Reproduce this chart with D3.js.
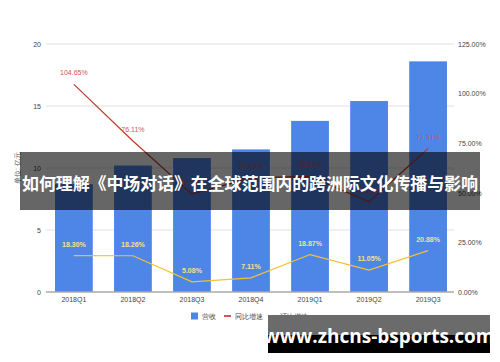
<!DOCTYPE html>
<html><head><meta charset="utf-8">
<script src="https://cdn.jsdelivr.net/npm/d3@7"></script>
<style>body{margin:0;background:#fff;}svg{display:block;font-family:"Liberation Sans",Arial,sans-serif;}</style>
</head><body><svg id="c" width="500" height="362"></svg>
<script>
const categories = ["2018Q1","2018Q2","2018Q3","2018Q4","2019Q1","2019Q2","2019Q3"];
const revenue = [8.7, 10.2, 10.8, 11.5, 13.8, 15.4, 18.6];
const yoy = [104.65, 76.11, 49.30, 57.49, 58.24, 45.52, 72.31];
const qoq = [18.30, 18.26, 5.08, 7.11, 18.87, 11.05, 20.88];
const leftTicks = [0, 5, 10, 15, 20];
const rightTicks = [0, 25, 50, 75, 100, 125];
const seriesNames = ["营收", "同比增速", "环比增速"];
const yAxisTitle = "单位: 亿元";
const bannerText = "如何理解《中场对话》在全球范围内的跨洲际文化传播与影响";
const watermark = "www.zhcns-bsports.com";

(function(){
const svg = d3.select("#c");
const pTop = 44, pBottom = 292, pLeft = 46, pRight = 454;
const x = d3.scaleBand().domain(categories).range([55, 447]).paddingInner(0.36).paddingOuter(0);
const yL = d3.scaleLinear().domain([0, 20]).range([pBottom, pTop]);
const yR = d3.scaleLinear().domain([0, 125]).range([pBottom, pTop]);
const cx = d => x(d) + x.bandwidth() / 2;

svg.append("g").selectAll("line").data(leftTicks.slice(1)).join("line")
  .attr("x1", pLeft).attr("x2", pRight).attr("y1", d => yL(d)).attr("y2", d => yL(d))
  .attr("stroke", "#e0e0e0").attr("stroke-width", 1);

const axL = d3.axisLeft(yL).tickValues(leftTicks).tickSize(0).tickPadding(5);
const gL = svg.append("g").attr("transform", `translate(${pLeft},0)`).call(axL);
gL.select(".domain").remove();
gL.selectAll("text").attr("font-size", 7).attr("fill", "#444");

const axR = d3.axisRight(yR).tickValues(rightTicks).tickSize(0).tickPadding(4)
  .tickFormat(d => d.toFixed(2) + "%");
const gR = svg.append("g").attr("transform", `translate(${pRight},0)`).call(axR);
gR.select(".domain").remove();
gR.selectAll("text").attr("font-size", 7).attr("fill", "#444");

svg.append("g").selectAll("rect").data(revenue).join("rect")
  .attr("x", (d, i) => x(categories[i])).attr("width", x.bandwidth())
  .attr("y", d => yL(d)).attr("height", d => pBottom - yL(d))
  .attr("fill", "#4e86e8");

svg.append("line").attr("x1", pLeft).attr("x2", pRight).attr("y1", pBottom).attr("y2", pBottom)
  .attr("stroke", "#aaa").attr("stroke-width", 1.5);

const axX = d3.axisBottom(x).tickSize(0).tickPadding(5);
const gX = svg.append("g").attr("transform", `translate(0,${pBottom})`).call(axX);
gX.select(".domain").remove();
gX.selectAll("text").attr("font-size", 7).attr("fill", "#444");

const lineR = d3.line().x((d, i) => cx(categories[i])).y(d => yR(d));
svg.append("path").datum(yoy).attr("d", lineR).attr("fill", "none")
  .attr("stroke", "#c0392b").attr("stroke-width", 1.2);
svg.append("path").datum(qoq).attr("d", lineR).attr("fill", "none")
  .attr("stroke", "#f1c232").attr("stroke-width", 1.2);

svg.append("g").selectAll("text").data(yoy).join("text")
  .attr("x", (d, i) => cx(categories[i])).attr("y", d => yR(d) - 9)
  .attr("text-anchor", "middle").attr("font-size", 7).attr("fill", "#d9534f")
  .text(d => d.toFixed(2) + "%");
svg.append("g").selectAll("text").data(qoq).join("text")
  .attr("x", (d, i) => cx(categories[i])).attr("y", d => yR(d) - 9)
  .attr("text-anchor", "middle").attr("font-size", 7).attr("font-weight", "bold")
  .attr("fill", "#f7e08a")
  .text(d => d.toFixed(2) + "%");

svg.append("text").attr("transform", "translate(20,168) rotate(-90)")
  .attr("text-anchor", "middle").attr("font-size", 7).attr("fill", "#555").text(yAxisTitle);

const lg = svg.append("g").attr("transform", "translate(0,316)");
lg.append("rect").attr("x", 191).attr("y", -3.5).attr("width", 7).attr("height", 7).attr("fill", "#4e86e8");
lg.append("text").attr("x", 202).attr("y", 2.5).attr("font-size", 7).attr("fill", "#444").text(seriesNames[0]);
lg.append("rect").attr("x", 224).attr("y", -1).attr("width", 7).attr("height", 2).attr("fill", "#d9534f");
lg.append("text").attr("x", 235).attr("y", 2.5).attr("font-size", 7).attr("fill", "#444").text(seriesNames[1]);
lg.append("rect").attr("x", 269).attr("y", -1).attr("width", 7).attr("height", 2).attr("fill", "#f1c232");
lg.append("text").attr("x", 280).attr("y", 2.5).attr("font-size", 7).attr("fill", "#444").text(seriesNames[2]);

svg.append("rect").attr("x", 20).attr("y", 152).attr("width", 460).attr("height", 58)
  .attr("fill", "#000").attr("opacity", 0.6);
svg.append("text").attr("x", 250).attr("y", 190).attr("text-anchor", "middle")
  .attr("font-family", "'Noto Sans CJK SC', sans-serif").attr("font-weight", "bold")
  .attr("font-size", 17).attr("fill", "#fff").attr("textLength", 456).text(bannerText);

svg.append("rect").attr("x", 268).attr("y", 315).attr("width", 222).attr("height", 38).attr("fill", "#000");
svg.append("rect").attr("x", 268).attr("y", 315).attr("width", 222).attr("height", 20).attr("fill", "#6b6b6b");
svg.append("text").attr("x", 379).attr("y", 343).attr("text-anchor", "middle")
  .attr("font-family", "'Open Sans', 'DejaVu Sans', sans-serif").attr("font-weight", "bold")
  .attr("font-size", 19).attr("fill", "#fff").text(watermark);
})();
</script></body></html>
